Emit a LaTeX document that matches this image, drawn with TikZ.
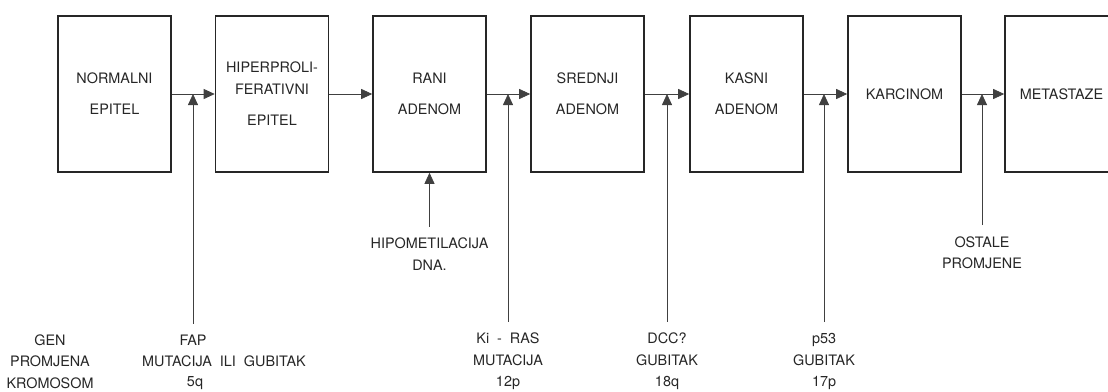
\documentclass[tikz,border=0pt]{standalone}
\usepackage{fontspec}
\setmainfont{TeX Gyre Heros}
\usetikzlibrary{arrows.meta}

\begin{document}
\begin{tikzpicture}[x=1pt, y=-1pt,
    stage/.style={draw=black!85, line width=1.6pt, minimum width=113pt, minimum height=156pt,
        align=center, text=black!85, font=\fontsize{14.4}{31}\selectfont},
    note/.style={align=center, inner sep=0pt, text=black!85, font=\fontsize{14.4}{21.5}\selectfont},
    flow/.style={draw=black!75, line width=0.8pt, -{Triangle[length=11pt, width=10pt]}},
    rise/.style={flow, shorten <=11pt}]
    \useasboundingbox (0, 0) rectangle (1108, 391);

    \node[stage] (normal) at (114.5, 94) {NORMALNI\\EPITEL};
    \node[stage] (hiper) at (272, 94) {HIPERPROLI-\\[-9pt]FERATIVNI\\EPITEL};
    \node[stage] (rani) at (429.5, 94) {RANI\\ADENOM};
    \node[stage] (srednji) at (587.5, 94) {SREDNJI\\ADENOM};
    \node[stage] (kasni) at (746.5, 94) {KASNI\\ADENOM};
    \node[stage] (karcinom) at (904.5, 94) {KARCINOM};
    \node[stage] (metastaze) at (1061.5, 94) {METASTAZE};

    \draw[flow] (normal) -- (hiper);
    \draw[flow] (hiper) -- (rani);
    \draw[flow] (rani) -- (srednji);
    \draw[flow] (srednji) -- (kasni);
    \draw[flow] (kasni) -- (karcinom);
    \draw[flow] (karcinom) -- (metastaze);

    \coordinate (fapin) at (193, 94);
    \coordinate (rasin) at (508, 94);
    \coordinate (dccin) at (667, 94);
    \coordinate (p53in) at (824, 94);
    \coordinate (ostin) at (982, 94);

    \node[note] (hipo) at (429.5, 254) {HIPOMETILACIJA\\DNA.};
    \node[note] (ostale) at (982, 252.5) {OSTALE\\PROMJENE};

    \node[note] (gen) at (50, 361.5) {GEN\\PROMJENA\\KROMOSOM};
    \node[note] (fap) at (193, 340) {FAP};
    \node[note] (fapmut) at (224, 361.5) {MUTACIJA\ \ ILI\ \ GUBITAK};
    \node[note] (fapq) at (195, 383) {5q};
    \node[note] (ras) at (508, 361.5) {Ki\ \ -\ \ RAS\\MUTACIJA\\12p};
    \node[note] (dcc) at (667, 361.5) {DCC?\\GUBITAK\\18q};
    \node[note] (p53) at (824, 361.5) {p53\\GUBITAK\\17p};

    \draw[rise] (hipo) -- (rani);
    \draw[rise] (ostale) -- (ostin);
    \draw[rise] (fap) -- (fapin);
    \draw[rise] (ras) -- (rasin);
    \draw[rise] (dcc) -- (dccin);
    \draw[rise] (p53) -- (p53in);
\end{tikzpicture}
\end{document}
